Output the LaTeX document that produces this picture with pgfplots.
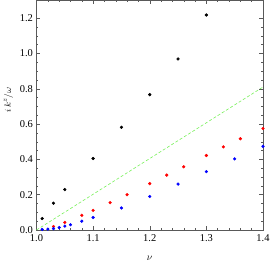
\documentclass[border=0pt]{standalone}
\usepackage{fontspec}
\setmainfont{Liberation Serif}
\usepackage{pgfplots}
\pgfplotsset{compat=1.18}
\definecolor{lgreen}{RGB}{120,240,90}
\begin{document}
\begin{tikzpicture}
\begin{axis}[
  at={(0,0)}, anchor=south west,
  width=226.5bp, height=230bp, scale only axis,
  xmin=1.0, xmax=1.4, ymin=0, ymax=1.303,
  xtick={1.0,1.1,1.2,1.3,1.4},
  xticklabels={1.0,1.1,1.2,1.3,1.4},
  ytick={0,0.2,0.4,0.6,0.8,1.0,1.2},
  yticklabels={0.0,0.2,0.4,0.6,0.8,1.0,1.2},
  minor x tick num=4, minor y tick num=3,
  tick align=inside,
  major tick length=4bp, minor tick length=2bp,
  tick style={gray!70!black, line width=0.4pt},
  axis line style={gray!70!black, line width=0.5pt},
  tick label style={font=\fontsize{10.5}{12}\selectfont},
  xticklabel style={yshift=-1bp},
  /pgf/number format/assume math mode=true,
  xlabel={$\nu$},
  ylabel={$i\,k^{z}/\omega$},
  xlabel style={font=\fontsize{10}{11}\selectfont, at={(rel axis cs:0.5,0)}, anchor=center, yshift=-28bp},
  ylabel style={font=\fontsize{9.5}{11}\selectfont, at={(rel axis cs:0,0.565)}, anchor=center, yshift=28bp},
  clip=false,
]
\addplot[lgreen, densely dashed, line width=0.6pt] coordinates {(1.0,0.0) (1.4,0.81)};
\addplot[only marks, mark=*, mark size=1.4pt, black] coordinates {
(1.01,0.065) (1.03,0.152) (1.05,0.229) (1.1,0.405) (1.15,0.582) (1.2,0.767) (1.25,0.969) (1.3,1.218)};
\addplot[only marks, mark=*, mark size=1.4pt, red] coordinates {
(1.03,0.02) (1.05,0.043) (1.08,0.083) (1.1,0.111) (1.13,0.155) (1.16,0.2) (1.2,0.263) (1.23,0.311) (1.26,0.358) (1.3,0.422) (1.33,0.471) (1.36,0.517) (1.4,0.575)};
\addplot[only marks, mark=*, mark size=1.4pt, blue] coordinates {
(1.01,0.003) (1.02,0.005) (1.03,0.008) (1.04,0.014) (1.05,0.022) (1.06,0.03) (1.08,0.05) (1.1,0.071) (1.15,0.125) (1.2,0.19) (1.25,0.26) (1.3,0.331) (1.35,0.403) (1.4,0.474)};
\end{axis}
\pgfresetboundingbox
\path[use as bounding box] (-36.5bp,-37bp) rectangle (233.5bp,230bp);
\end{tikzpicture}
\end{document}
